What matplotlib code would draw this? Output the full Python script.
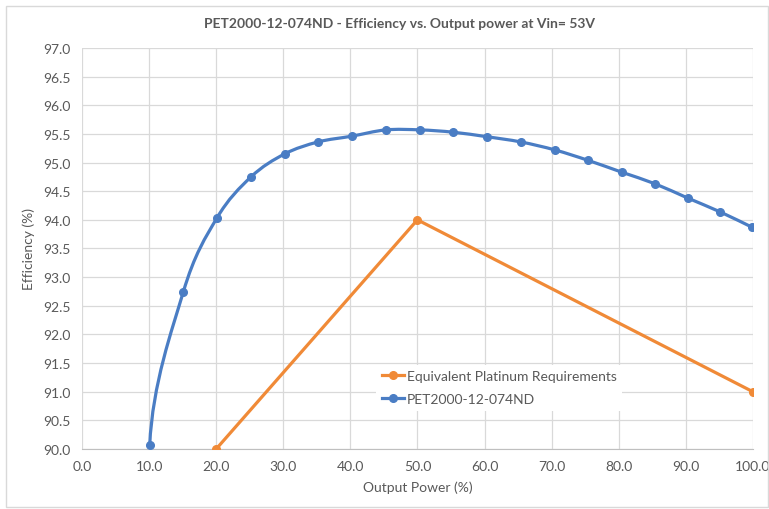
import numpy as np
import matplotlib.pyplot as plt
from matplotlib.path import Path
from matplotlib.patches import PathPatch, Rectangle
from matplotlib.lines import Line2D

# data
power_pet = [10.1, 15.1, 20.1, 25.2, 30.2, 35.2, 40.2, 45.3, 50.4, 55.3,
             60.4, 65.4, 70.5, 75.4, 80.5, 85.4, 90.3, 95.1, 99.9]
eff_pet = [90.07, 92.74, 94.03, 94.75, 95.15, 95.36, 95.46, 95.57, 95.57, 95.53,
           95.45, 95.36, 95.22, 95.04, 94.83, 94.63, 94.38, 94.14, 93.87]
power_plat = [20, 50, 100]
eff_plat = [90.0, 94.0, 91.0]

x_ticks = np.arange(0, 101, 10)
y_ticks = np.arange(90, 97.01, 0.5)

blue = '#4A7DC4'
orange = '#F08A37'
grey_txt = '#595959'

plt.rcParams['font.family'] = ['Lato', 'DejaVu Sans']


def smooth_path(x, y):
    # smoothed line like Excel: Catmull-Rom segments drawn as cubic Beziers
    x = np.asarray(x, float)
    y = np.asarray(y, float)
    verts = [(x[0], y[0])]
    codes = [Path.MOVETO]
    n = len(x)
    for i in range(n - 1):
        i3 = min(i + 2, n - 1)
        if i == 0:
            # steeper start, the way Excel bends the first segment
            c1 = (x[0] + (x[1] - x[0]) / 12, y[0] + (y[1] - y[0]) / 2.5)
        else:
            c1 = (x[i] + (x[i + 1] - x[i - 1]) / 6, y[i] + (y[i + 1] - y[i - 1]) / 6)
        c2 = (x[i + 1] - (x[i3] - x[i]) / 6, y[i + 1] - (y[i3] - y[i]) / 6)
        verts += [c1, c2, (x[i + 1], y[i + 1])]
        codes += [Path.CURVE4] * 3
    return Path(verts, codes)


fig = plt.figure(figsize=(7.69, 5.10), dpi=100)
ax = fig.add_axes([0.1066, 0.1176, 0.8724, 0.7864])

fig.patches.append(Rectangle((6 / 769, 2 / 510), 762 / 769, 501 / 510,
                             transform=fig.transFigure, fill=False,
                             edgecolor='#D9D9D9', linewidth=1))

ax.add_patch(PathPatch(smooth_path(power_pet, eff_pet), fill=False,
                       edgecolor=blue, linewidth=2.3, zorder=3))
ax.plot(power_pet, eff_pet, linestyle='none', marker='o', markersize=5.5,
        color=blue, zorder=4)
ax.plot(power_plat, eff_plat, color=orange, linewidth=2.3, marker='o',
        markersize=5.5, zorder=3)

ax.set_xlim(0, 100)
ax.set_ylim(90, 97)
ax.set_xticks(x_ticks)
ax.set_yticks(y_ticks)
ax.set_xticklabels([f'{v:.1f}' for v in x_ticks])
ax.set_yticklabels([f'{v:.1f}' for v in y_ticks])
ax.tick_params(length=0, labelsize=10, colors=grey_txt, pad=8)
ax.grid(True, color='#D9D9D9', linewidth=0.9)
ax.set_axisbelow(True)
for s in ['top', 'right', 'left']:
    ax.spines[s].set_visible(False)
ax.spines['bottom'].set_color('#BFBFBF')

ax.set_xlabel('Output Power (%)', fontsize=10, color=grey_txt, labelpad=6)
ax.set_ylabel('Efficiency (%)', fontsize=10, color=grey_txt, labelpad=6)
fig.text(0.52, 0.952, 'PET2000-12-074ND - Efficiency vs. Output power at Vin= 53V',
         ha='center', va='center', fontsize=10, fontweight='bold', color=grey_txt)

handles = [Line2D([], [], color=orange, linewidth=2.3, marker='o', markersize=5.5),
           Line2D([], [], color=blue, linewidth=2.3, marker='o', markersize=5.5)]
leg = ax.legend(handles, ['Equivalent Platinum Requirements', 'PET2000-12-074ND'],
                loc='upper left', bbox_to_anchor=(0.428, 0.228), fontsize=10,
                frameon=True, facecolor='white', edgecolor='none', framealpha=1,
                handlelength=1.6, handletextpad=0.2, labelspacing=0.8,
                borderpad=0.4, fancybox=False)
for t in leg.get_texts():
    t.set_color(grey_txt)
leg.set_zorder(5)

fig.savefig('out.png', dpi=100)
